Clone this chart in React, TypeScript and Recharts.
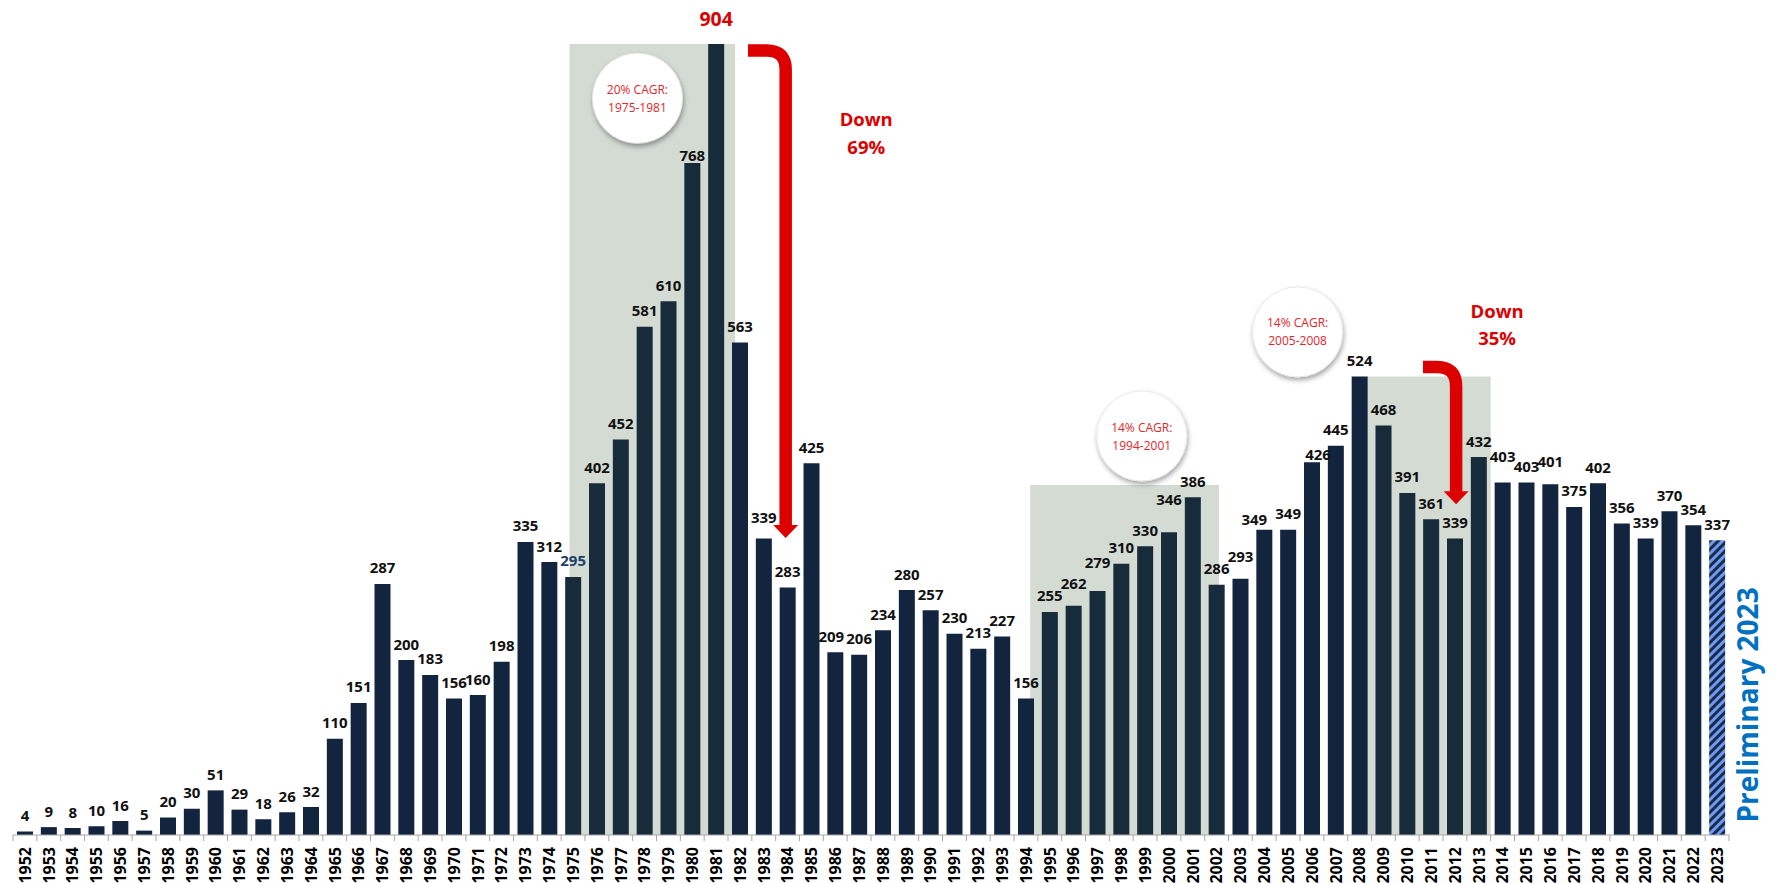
import React from 'react';
import { BarChart, Bar, XAxis, YAxis, Cell, LabelList, ReferenceArea, ReferenceDot } from 'recharts';

// ---------- data ----------
const years = [
  '1952', '1953', '1954', '1955', '1956', '1957', '1958', '1959', '1960', '1961', '1962', '1963', '1964',
  '1965', '1966', '1967', '1968', '1969', '1970', '1971', '1972', '1973', '1974',
  '1975', '1976', '1977', '1978', '1979', '1980', '1981', '1982', '1983', '1984',
  '1985', '1986', '1987', '1988', '1989', '1990', '1991', '1992', '1993', '1994',
  '1995', '1996', '1997', '1998', '1999', '2000', '2001', '2002', '2003', '2004',
  '2005', '2006', '2007', '2008', '2009', '2010', '2011', '2012', '2013', '2014',
  '2015', '2016', '2017', '2018', '2019', '2020', '2021', '2022', '2023',
];
const values = [
  4, 9, 8, 10, 16, 5, 20, 30, 51, 29, 18, 26, 32,
  110, 151, 287, 200, 183, 156, 160, 198, 335, 312,
  295, 402, 452, 581, 610, 768, 904, 563, 339, 283,
  425, 209, 206, 234, 280, 257, 230, 213, 227, 156,
  255, 262, 279, 310, 330, 346, 386, 286, 293, 349,
  349, 426, 445, 524, 468, 391, 361, 339, 432, 403,
  403, 401, 375, 402, 356, 339, 370, 354, 337,
];
const highlightedYears = [
  '1975', '1976', '1977', '1978', '1979', '1980', '1981',
  '1995', '1996', '1997', '1998', '1999', '2000', '2001', '2002',
  '2009', '2010', '2011', '2012', '2013',
];
const preliminaryYear = '2023';
const peakYear = '1981';
const cagrNotes = [
  ['20% CAGR:', '1975-1981'],
  ['14% CAGR:', '1994-2001'],
  ['14% CAGR:', '2005-2008'],
];
const dropNotes = [['Down', '69%'], ['Down', '35%']];
const preliminaryText = 'Preliminary 2023';

const data = years.map((year, i) => ({ year, value: values[i], idx: i }));

// ---------- layout / style ----------
const W = 1775;
const H = 883;
const M = { top: 44, right: 46, bottom: 0, left: 13 };
const AXIS_H = 48;
const HALF_BAND = (W - M.left - M.right) / years.length / 2;
const FONT = "'Open Sans', 'DejaVu Sans', sans-serif";
const NAVY = '#12243E';
const TEAL = '#172B3A';
const BOX = '#D3DBD3';
const RED = '#DD0000';
const CIRCLE_RED = '#E3262B';

const labelNudge: Record<number, { dx?: number; dy?: number }> = {
  28: { dy: -8.5 },
  31: { dy: 5 },
  34: { dx: -4 },
  44: { dy: 6 },
  45: { dy: 12 },
  48: { dy: 17 },
  51: { dy: 6 },
  52: { dx: -10, dy: -6 },
  54: { dx: 6, dy: -8 },
  62: { dy: 10 },
  64: { dy: 7 },
};

const YearTick = (props: any) => {
  const { x, y, payload } = props;
  const isLast = payload && payload.value === years[years.length - 1];
  return (
    <g>
      <line x1={x - HALF_BAND} x2={x - HALF_BAND} y1={y} y2={y + 6} stroke="#A6A6A6" strokeWidth={1} />
      {isLast && <line x1={x + HALF_BAND} x2={x + HALF_BAND} y1={y} y2={y + 6} stroke="#A6A6A6" strokeWidth={1} />}
      <text
        x={0}
        y={0}
        transform={`translate(${x + 5.8},${y + 12}) rotate(-90)`}
        textAnchor="end"
        fontFamily={FONT}
        fontWeight={700}
        fontSize={16}
        fill="#000"
      >
        {payload.value}
      </text>
    </g>
  );
};

const ValueLabel = (props: any) => {
  const vb = props.viewBox && typeof props.viewBox.x === 'number' ? props.viewBox : props;
  const x = Number(vb.x);
  const y = Number(vb.y);
  const w = Number(vb.width);
  const index = props.index;
  const n = labelNudge[index] || {};
  const year = years[index];
  const isPeak = year === peakYear;
  const isFirstCycle = year === '1975';
  return (
    <text
      x={x + w / 2 + (n.dx || 0)}
      y={y - (isPeak ? 18.5 : 10.5) - (n.dy || 0)}
      textAnchor="middle"
      fontFamily={FONT}
      fontWeight={700}
      fontSize={isPeak ? 19.5 : 15}
      fill={isPeak ? RED : isFirstCycle ? '#23406A' : '#111'}
    >
      {props.value}
    </text>
  );
};

const makeCircle = (lines: string[]) => (p: any) => {
  const { cx, cy } = p;
  return (
    <g>
      <circle cx={cx} cy={cy} r={45} fill="#fff" stroke="#E4E4E4" strokeWidth={0.8} filter="url(#circleShadow)" />
      <text x={cx} y={cy - 4.5} textAnchor="middle" fontFamily={FONT} fontSize={12} fill={CIRCLE_RED}>
        {lines[0]}
      </text>
      <text x={cx} y={cy + 13.5} textAnchor="middle" fontFamily={FONT} fontSize={12} fill={CIRCLE_RED}>
        {lines[1]}
      </text>
    </g>
  );
};

const makeDropText = (lines: string[]) => (p: any) => {
  const { cx, cy } = p;
  return (
    <g>
      <text x={cx} y={cy - 7.3} textAnchor="middle" fontFamily={FONT} fontWeight={700} fontSize={18.5} fill={RED}>
        {lines[0]}
      </text>
      <text x={cx} y={cy + 20.4} textAnchor="middle" fontFamily={FONT} fontWeight={700} fontSize={18.5} fill={RED}>
        {lines[1]}
      </text>
    </g>
  );
};

const ArrowShape = (p: any) => {
  const x = Number(p.x);
  const y = Number(p.y);
  const w = Number(p.width);
  const h = Number(p.height);
  const t = 12.5;
  const r = 19;
  const hw = 12.5;
  const hl = 13;
  const xv = x + w;
  const tip = y + h;
  const d = `M ${x} ${y} L ${xv - r} ${y} Q ${xv} ${y} ${xv} ${y + r} L ${xv} ${tip - hl + 0.5}`;
  return (
    <g>
      <path d={d} fill="none" stroke={RED} strokeWidth={t} strokeLinecap="butt" strokeLinejoin="round" />
      <polygon points={`${xv - hw},${tip - hl} ${xv + hw},${tip - hl} ${xv},${tip}`} fill={RED} />
    </g>
  );
};

const PrelimText = (p: any) => {
  const { cx, cy } = p;
  return (
    <text
      x={0}
      y={0}
      transform={`translate(${cx + 41},${cy}) rotate(-90)`}
      textAnchor="middle"
      fontFamily={FONT}
      fontWeight={700}
      fontSize={28}
      fill="#0070C0"
    >
      {preliminaryText}
    </text>
  );
};

export default function App() {
  return (
    <div style={{ position: 'absolute', left: 0, top: 0, width: W, height: H, background: '#fff' }}>
      <BarChart width={W} height={H} data={data} margin={M} barSize={16}>
        <defs>
          <pattern id="hatch" patternUnits="userSpaceOnUse" width="6" height="6" patternTransform="rotate(45)">
            <rect x="0" y="0" width="6" height="6" fill="#6B9BF5" />
            <rect x="0" y="0" width="3" height="6" fill="#1B2A48" />
          </pattern>
          <filter id="circleShadow" x="-30%" y="-30%" width="160%" height="170%">
            <feDropShadow dx="1" dy="3" stdDeviation="2.5" floodColor="#000" floodOpacity="0.35" />
          </filter>
        </defs>
        <XAxis
          dataKey="year"
          interval={0}
          height={AXIS_H}
          tick={<YearTick />}
          tickLine={false}
          tickSize={0}
          tickMargin={0}
          axisLine={{ stroke: '#A6A6A6', strokeWidth: 1 }}
        />
        <XAxis
          xAxisId="num"
          dataKey="idx"
          type="number"
          domain={[-0.5, years.length - 0.5]}
          allowDataOverflow
          hide
        />
        <YAxis hide domain={[0, 904]} allowDataOverflow />

        {/* shaded growth periods */}
        <ReferenceArea xAxisId="num" x1={22.85} x2={29.8} y1={0} y2={904} fill={BOX} fillOpacity={1} stroke="none" />
        <ReferenceArea xAxisId="num" x1={42.18} x2={50.1} y1={0} y2={400} fill={BOX} fillOpacity={1} stroke="none" />
        <ReferenceArea xAxisId="num" x1={56.33} x2={61.5} y1={0} y2={524} fill={BOX} fillOpacity={1} stroke="none" />

        <Bar dataKey="value" isAnimationActive={false}>
          {data.map((d) => (
            <Cell
              key={d.year}
              fill={d.year === preliminaryYear ? 'url(#hatch)' : highlightedYears.includes(d.year) ? TEAL : NAVY}
            />
          ))}
          <LabelList dataKey="value" content={<ValueLabel />} />
        </Bar>

        {/* drop arrows */}
        <ReferenceArea xAxisId="num" x1={30.34} x2={31.92} y1={339.4} y2={896.6} shape={<ArrowShape />} />
        <ReferenceArea xAxisId="num" x1={58.66} x2={60.05} y1={378} y2={534.9} shape={<ArrowShape />} />

        {/* CAGR circles */}
        <ReferenceDot xAxisId="num" x={25.7} y={842} r={45} shape={makeCircle(cagrNotes[0])} />
        <ReferenceDot xAxisId="num" x={46.86} y={456} r={45} shape={makeCircle(cagrNotes[1])} />
        <ReferenceDot xAxisId="num" x={53.4} y={575} r={45} shape={makeCircle(cagrNotes[2])} />

        {/* drop texts */}
        <ReferenceDot xAxisId="num" x={35.3} y={801.4} r={1} shape={makeDropText(dropNotes[0])} />
        <ReferenceDot xAxisId="num" x={61.77} y={582.9} r={1} shape={makeDropText(dropNotes[1])} />

        {/* preliminary note */}
        <ReferenceDot xAxisId="num" x={71} y={148.6} r={1} shape={PrelimText} ifOverflow="visible" />
      </BarChart>
    </div>
  );
}
